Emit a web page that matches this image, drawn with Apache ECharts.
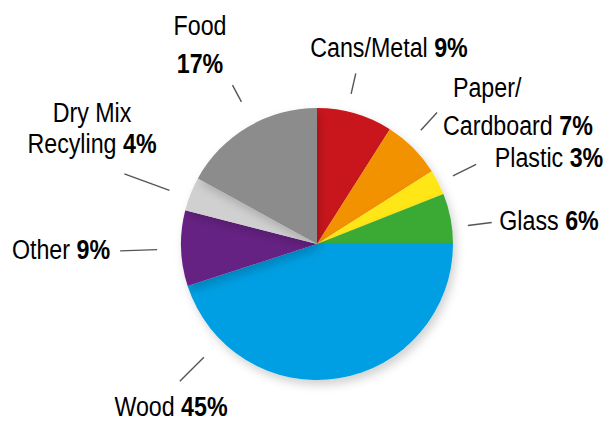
<!DOCTYPE html>
<html>
<head>
<meta charset="utf-8">
<script src="https://cdn.jsdelivr.net/npm/echarts@6/dist/echarts.min.js"></script>
<style>
  html, body { margin: 0; padding: 0; background: #fff; }
  #chart { width: 613px; height: 421px; }
</style>
</head>
<body>
<div id="chart"></div>
<script>
// Waste stream composition (percent), clockwise from 12 o'clock
const categories = ['Cans/Metal', 'Paper/\nCardboard', 'Plastic', 'Glass', 'Wood', 'Other', 'Dry Mix\nRecyling', 'Food'];
const shares = [9, 7, 3, 6, 45, 9, 4, 17];
const sliceColors = ['#c8161d', '#f39200', '#ffe617', '#3aaa35', '#009fe3', '#662483', '#d0d0d0', '#8c8c8c'];

// Label anchor points (centre of text block) and text alignment
const labelSpots = [
  { x: 389, y: 47, align: 'center' },
  { x: 443, y: 106, align: 'left' },
  { x: 549, y: 157, align: 'center' },
  { x: 549, y: 220, align: 'center' },
  { x: 171, y: 406, align: 'center' },
  { x: 61, y: 249, align: 'center' },
  { x: 92, y: 128, align: 'center' },
  { x: 200, y: 44, align: 'center' }
];

// Short detached leader strokes: [angle clockwise from top (deg), inner radius, outer radius]
const leaders = [
  [12.8, 154, 175],
  [42.4, 154, 178],
  [63.4, 152, 178],
  [83, 152, 176],
  [225, 160, 194],
  [268, 160, 197],
  [290, 157, 205],
  [332, 161, 180]
];

const cx = 317, cy = 244, R = 136;

// Liberation Sans squeezed horizontally gives a condensed sans face
const FONT = '"Liberation Sans", Arial, sans-serif';
const FONT_SIZE = 28;
const SQUEEZE = 0.83;
const nameColor = '#6d6d6d';
const pctColor = '#2a2a2a';

function labelText(name, value) {
  if (name === 'Food') return '{nf|Food}\n{pf|' + value + '%}';
  if (name.indexOf('Paper') === 0) return '{ni|Paper/}\n{nf|Cardboard }{p|' + value + '%}';
  const parts = name.split('\n');
  if (parts.length > 1) return '{n|' + parts[0] + '}\n{n|' + parts[1] + ' }{p|' + value + '%}';
  return '{n|' + name + ' }{p|' + value + '%}';
}

const rich = {
  n: { fontFamily: FONT, fontSize: FONT_SIZE, color: nameColor, lineHeight: 31 },
  nf: { fontFamily: FONT, fontSize: FONT_SIZE, color: nameColor, lineHeight: 38 },
  ni: { fontFamily: FONT, fontSize: FONT_SIZE, color: nameColor, lineHeight: 38, padding: [0, 0, 0, 12] },
  p: { fontFamily: FONT, fontSize: FONT_SIZE, fontWeight: 'bold', color: pctColor, lineHeight: 31 },
  pf: { fontFamily: FONT, fontSize: FONT_SIZE, fontWeight: 'bold', color: pctColor, lineHeight: 38 }
};

const chart = echarts.init(document.getElementById('chart'), null, { renderer: 'svg' });

const leaderLines = leaders.map(function (l) {
  const a = l[0] * Math.PI / 180;
  return {
    type: 'line',
    silent: true,
    shape: {
      x1: cx + l[1] * Math.sin(a), y1: cy - l[1] * Math.cos(a),
      x2: cx + l[2] * Math.sin(a), y2: cy - l[2] * Math.cos(a)
    },
    style: { stroke: '#555', lineWidth: 1.4 }
  };
});

const labels = categories.map(function (c, i) {
  const s = labelSpots[i];
  return {
    type: 'text',
    silent: true,
    x: s.x,
    y: s.y,
    scaleX: SQUEEZE,
    style: {
      text: labelText(c, shares[i]),
      x: 0,
      y: 0,
      align: s.align,
      verticalAlign: 'middle',
      rich: rich
    }
  };
});

chart.setOption({
  backgroundColor: '#ffffff',
  animation: false,
  graphic: leaderLines.concat(labels),
  series: [{
    type: 'pie',
    center: [cx, cy],
    radius: R,
    startAngle: 90,
    clockwise: true,
    itemStyle: {
      shadowBlur: 10,
      shadowOffsetX: 3,
      shadowOffsetY: 5,
      shadowColor: 'rgba(0,0,0,0.18)'
    },
    label: { show: false },
    labelLine: { show: false },
    data: categories.map(function (c, i) {
      return { name: c, value: shares[i], itemStyle: { color: sliceColors[i] } };
    })
  }]
});
</script>
</body>
</html>
